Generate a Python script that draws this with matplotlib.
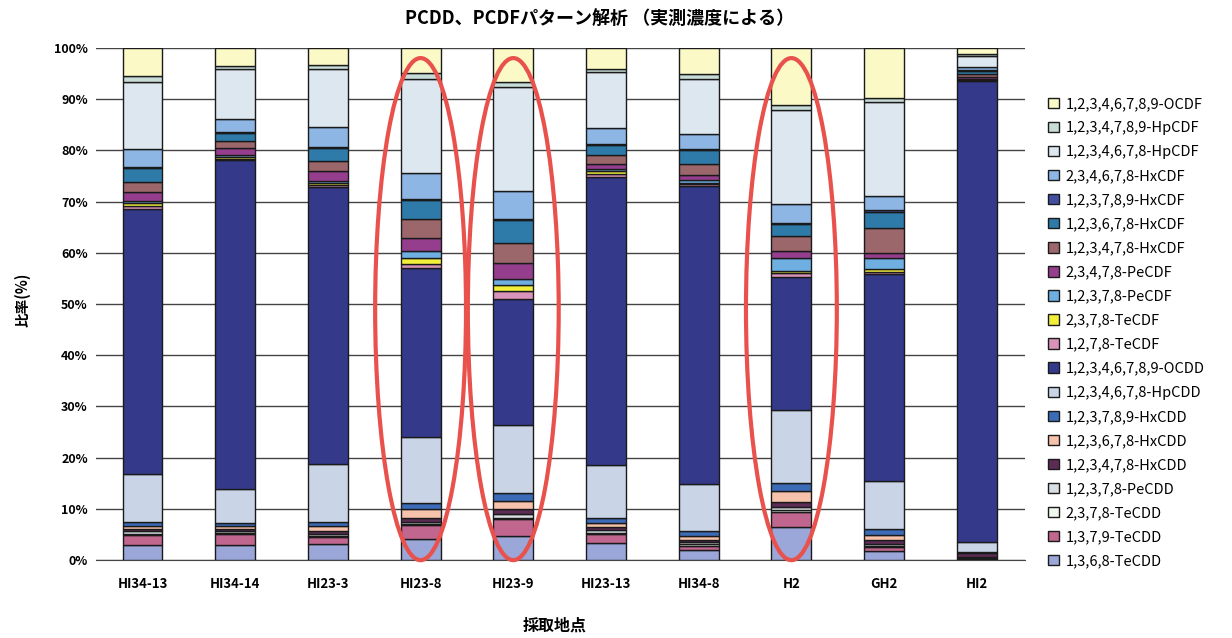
import numpy as np
import matplotlib
matplotlib.use('Agg')
import matplotlib.pyplot as plt
from matplotlib.patches import Ellipse, Patch

plt.rcParams['font.family'] = ['Noto Sans CJK JP', 'DejaVu Sans']

sites = ['HI34-13', 'HI34-14', 'HI23-3', 'HI23-8', 'HI23-9',
         'HI23-13', 'HI34-8', 'H2', 'GH2', 'HI2']

# ratio (%) of each congener per site, bottom of the stack first
tecdd_1368 = [2.9, 3.0, 3.1, 4.1, 4.8, 3.3, 1.9, 6.4, 1.8, 0.3]
tecdd_1379 = [2.0, 2.1, 1.5, 2.7, 3.2, 1.8, 0.9, 3.0, 0.7, 0.2]
tecdd_2378 = [0.2, 0.2, 0.2, 0.2, 0.3, 0.2, 0.3, 0.3, 0.3, 0.1]
pecdd_12378 = [0.5, 0.4, 0.4, 0.5, 0.7, 0.5, 0.4, 0.6, 0.4, 0.1]
hxcdd_123478 = [0.4, 0.4, 0.5, 0.8, 0.9, 0.6, 0.5, 1.0, 0.8, 0.7]
hxcdd_123678 = [0.7, 0.5, 0.9, 1.6, 1.6, 0.9, 0.8, 2.2, 1.0, 0.1]
hxcdd_123789 = [0.8, 0.6, 0.8, 1.3, 1.6, 0.9, 0.9, 1.5, 1.1, 0.1]
hpcdd = [9.3, 6.6, 11.3, 12.9, 13.3, 10.3, 9.2, 14.4, 9.3, 1.9]
ocdd = [51.7, 64.3, 54.1, 32.9, 24.6, 56.2, 58.2, 25.9, 40.5, 90.0]
tecdf_1278 = [0.7, 0.3, 0.4, 0.9, 1.6, 0.7, 0.3, 0.8, 0.4, 0.2]
tecdf_2378 = [0.6, 0.3, 0.5, 1.1, 1.1, 0.6, 0.3, 0.4, 0.6, 0.1]
pecdf_12378 = [0.4, 0.4, 0.4, 1.3, 1.2, 0.3, 0.6, 2.4, 2.0, 0.2]
pecdf_23478 = [1.6, 1.3, 1.9, 2.6, 3.2, 1.1, 0.9, 1.4, 1.1, 0.3]
hxcdf_123478 = [2.0, 1.4, 1.9, 3.7, 3.9, 1.6, 2.2, 2.9, 4.8, 0.5]
hxcdf_123678 = [2.7, 1.6, 2.6, 3.7, 4.4, 2.0, 2.6, 2.4, 3.2, 0.7]
hxcdf_123789 = [0.2, 0.2, 0.2, 0.2, 0.2, 0.2, 0.2, 0.3, 0.3, 0.2]
hxcdf_234678 = [3.5, 2.5, 3.8, 5.1, 5.4, 3.1, 2.9, 3.7, 2.7, 0.5]
hpcdf_1234678 = [13.2, 9.8, 11.3, 18.4, 20.3, 11.0, 10.8, 18.2, 18.4, 2.2]
hpcdf_1234789 = [1.1, 0.6, 0.8, 1.0, 1.0, 0.5, 0.9, 1.0, 0.9, 0.4]
ocdf = [5.5, 3.5, 3.4, 5.0, 6.7, 4.2, 5.2, 11.2, 9.7, 1.2]

series = [
    ('1,3,6,8-TeCDD', tecdd_1368, '#9ba7d9'),
    ('1,3,7,9-TeCDD', tecdd_1379, '#c0668f'),
    ('2,3,7,8-TeCDD', tecdd_2378, '#eef8ec'),
    ('1,2,3,7,8-PeCDD', pecdd_12378, '#d9dee2'),
    ('1,2,3,4,7,8-HxCDD', hxcdd_123478, '#5c2c55'),
    ('1,2,3,6,7,8-HxCDD', hxcdd_123678, '#f7c2ab'),
    ('1,2,3,7,8,9-HxCDD', hxcdd_123789, '#3c6cb8'),
    ('1,2,3,4,6,7,8-HpCDD', hpcdd, '#c9d5e6'),
    ('1,2,3,4,6,7,8,9-OCDD', ocdd, '#35398a'),
    ('1,2,7,8-TeCDF', tecdf_1278, '#d993ba'),
    ('2,3,7,8-TeCDF', tecdf_2378, '#f2ee3c'),
    ('1,2,3,7,8-PeCDF', pecdf_12378, '#6eaee0'),
    ('2,3,4,7,8-PeCDF', pecdf_23478, '#963e8e'),
    ('1,2,3,4,7,8-HxCDF', hxcdf_123478, '#9c676b'),
    ('1,2,3,6,7,8-HxCDF', hxcdf_123678, '#2e7aa8'),
    ('1,2,3,7,8,9-HxCDF', hxcdf_123789, '#4350a2'),
    ('2,3,4,6,7,8-HxCDF', hxcdf_234678, '#8db6e4'),
    ('1,2,3,4,6,7,8-HpCDF', hpcdf_1234678, '#dde7ef'),
    ('1,2,3,4,7,8,9-HpCDF', hpcdf_1234789, '#c8dcd7'),
    ('1,2,3,4,6,7,8,9-OCDF', ocdf, '#fbf9c6'),
]

# sites circled in red
circled = [3, 4, 7]

fig = plt.figure(figsize=(12.32, 6.38), dpi=100)
ax = fig.add_axes([0.078, 0.122, 0.754, 0.803])

x = np.arange(len(sites))
totals = np.sum([vals for _, vals, _ in series], axis=0)
bottom = np.zeros(len(sites))
handles = []
for name, vals, color in series:
    pct = np.array(vals) / totals * 100
    ax.bar(x, pct, width=0.43, bottom=bottom, color=color,
           edgecolor='#1a1a1a', linewidth=1.0, zorder=3)
    bottom += pct
    handles.append(Patch(facecolor=color, edgecolor='#1a1a1a', linewidth=1.0, label=name))

for i in circled:
    ax.add_patch(Ellipse((i, 49.0), 0.98, 98.0, fill=False, edgecolor='#e9524c',
                         linewidth=3.0, zorder=5, clip_on=False))

ax.set_xlim(-0.5, 9.52)
ax.set_ylim(0, 100)
ax.set_yticks(np.arange(0, 101, 10))
ax.set_yticklabels([f'{v}%' for v in range(0, 101, 10)], fontsize=9, fontweight='bold')
ax.set_xticks(x)
ax.set_xticklabels(sites, fontsize=9.5, fontweight='bold')
ax.tick_params(axis='x', length=0, pad=12)
ax.tick_params(axis='y', length=0, pad=6)
ax.yaxis.grid(True, color='#444444', linewidth=1.0, zorder=0)
for side in ['top', 'right', 'left']:
    ax.spines[side].set_visible(False)
ax.spines['bottom'].set_color('#444444')

fig.text(0.487, 0.97, 'PCDD、PCDFパターン解析 （実測濃度による）',
         ha='center', va='center', fontsize=13, fontweight='bold')
fig.text(0.018, 0.53, '比率(%)', rotation=90, ha='center', va='center',
         fontsize=10.5, fontweight='bold')
fig.text(0.45, 0.02, '採取地点', ha='center', va='center',
         fontsize=11.5, fontweight='bold')

fig.legend(handles=handles[::-1], loc='upper left', bbox_to_anchor=(0.846, 0.857),
           frameon=False, fontsize=10.5, handlelength=0.72, handleheight=0.72,
           handletextpad=0.5, labelspacing=0.69, borderaxespad=0)

fig.savefig('out.png', dpi=100)
